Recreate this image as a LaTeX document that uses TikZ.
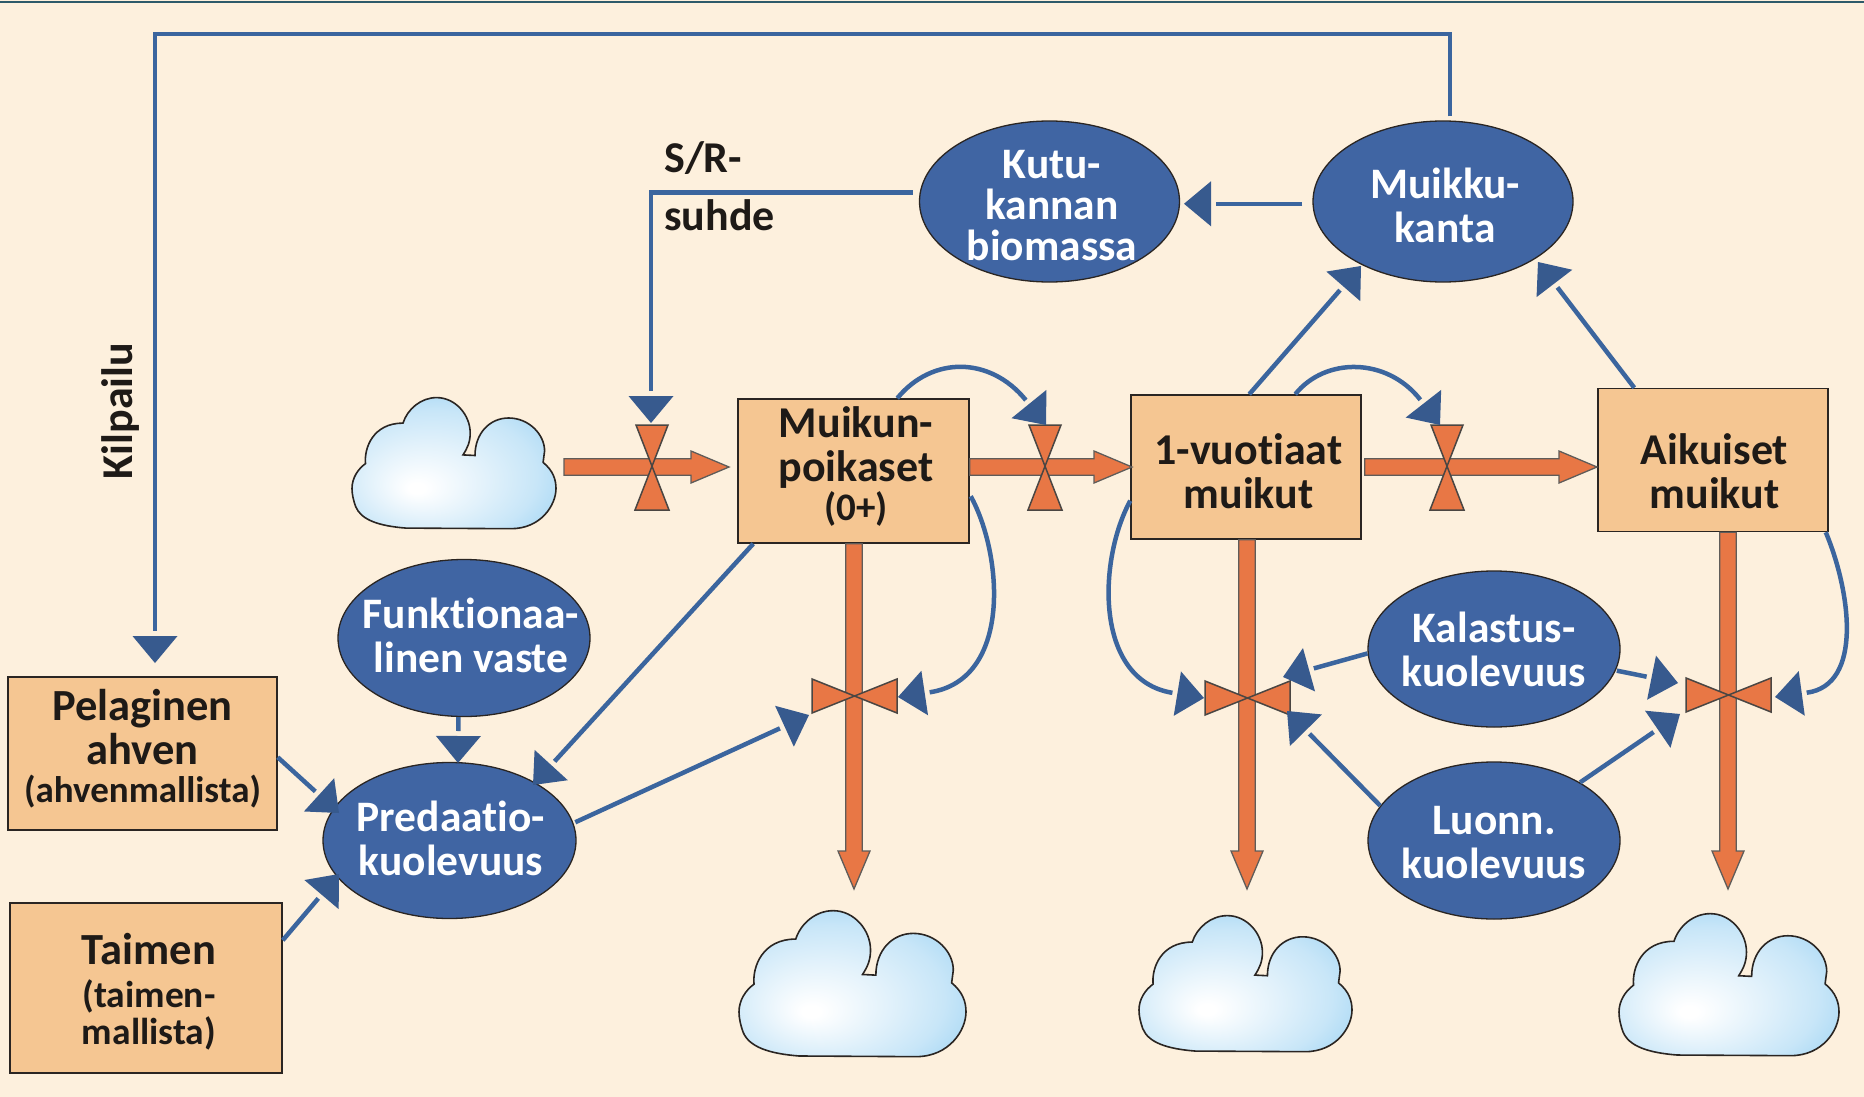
\documentclass[tikz,border=0pt]{standalone}
\usepackage{fontspec}
\setmainfont[Ligatures=NoCommon]{Carlito}
\usetikzlibrary{shapes.geometric,arrows.meta,calc}
\definecolor{bgc}{HTML}{FDF0DD}
\definecolor{orangec}{HTML}{E87745}
\definecolor{boxc}{HTML}{F5C692}
\definecolor{ellc}{HTML}{4065A3}
\definecolor{linec}{HTML}{3B659E}
\definecolor{tipc}{HTML}{375A8E}
\definecolor{darkc}{HTML}{2A2522}
\definecolor{txtc}{HTML}{1E1A17}
\definecolor{topc}{HTML}{2D5A6A}
\definecolor{cloudin}{HTML}{FFFFFF}
\definecolor{cloudaa}{HTML}{E3F2FB}
\definecolor{cloudbb}{HTML}{C8E6F8}
\definecolor{cloudout}{HTML}{A6D7F4}
\pgfdeclareradialshading{cloudshade}{\pgfpoint{-9.5bp}{-10bp}}{color(0bp)=(cloudin); color(2bp)=(cloudin); color(14bp)=(cloudaa); color(25bp)=(cloudbb); color(34bp)=(cloudout); color(50bp)=(cloudout)}
\pgfdeclarearrow{
  name=GapTri,
  cache=false,
  setup code={
    \pgfarrowssetbackend{0pt}
    \pgfarrowssetlineend{-5pt}
    \pgfarrowssettipend{27pt}
    \pgfarrowshullpoint{27pt}{0pt}
    \pgfarrowsupperhullpoint{0pt}{22.5pt}
  },
  drawing code={
    \pgfsetfillcolor{tipc}
    \pgfpathmoveto{\pgfqpoint{27pt}{0pt}}
    \pgfpathlineto{\pgfqpoint{0pt}{22.5pt}}
    \pgfpathlineto{\pgfqpoint{0pt}{-22.5pt}}
    \pgfpathclose
    \pgfusepathqfill
  }
}
% fixes the height and depth of a text block, so the baselines fall where wanted
\newcommand{\tophold}[1]{\rule{0pt}{#1pt}}
\newcommand{\bothold}{\rule[-30pt]{0pt}{30pt}}
\newcommand{\nudge}[1]{\hspace*{#1pt}}
\tikzset{
  statebox/.style={draw=darkc,line width=1.5pt,fill=boxc,text=txtc,font=\bfseries\fontsize{44}{44}\selectfont,align=center,inner xsep=0pt,inner ysep=-50pt},
  oval/.style={ellipse,draw=darkc,line width=1.3pt,fill=ellc,text=white,font=\bfseries\fontsize{43.5}{44}\selectfont,align=center,inner xsep=-70pt,inner ysep=-70pt},
  conn/.style={draw=linec,line width=4.5pt,-GapTri},
  flowbody/.style={draw=darkc!75,line width=1.3pt,fill=orangec,line join=miter},
  valve/.style={draw=darkc!85,line width=1.5pt,fill=orangec},
  cloudy/.style={shading=cloudshade,draw=darkc,line width=1.6pt},
  lbl/.style={text=txtc,font=\bfseries\fontsize{44}{44}\selectfont,inner sep=0pt},
}
\newcommand{\flowright}[2]{\draw[flowbody] let \p1=(#1),\p2=(#2) in (\x1,\y1+8.3pt) -- (\x2-38pt,\y1+8.3pt) -- (\x2-38pt,\y1+16pt) -- (\x2,\y1) -- (\x2-38pt,\y1-16pt) -- (\x2-38pt,\y1-8.3pt) -- (\x1,\y1-8.3pt) -- cycle;}
\newcommand{\flowdown}[2]{\draw[flowbody] let \p1=(#1),\p2=(#2) in (\x1-8.3pt,\y1) -- (\x1-8.3pt,\y2+38pt) -- (\x1-16pt,\y2+38pt) -- (\x1,\y2) -- (\x1+16pt,\y2+38pt) -- (\x1+8.3pt,\y2+38pt) -- (\x1+8.3pt,\y1) -- cycle;}
\newcommand{\valveup}[1]{\draw[valve,shift={(#1)}] (-16,-42) -- (16,-42) -- (-17,43) -- (17,43) -- cycle;}
\newcommand{\valveside}[1]{\draw[valve,shift={(#1)}] (-42,-17) -- (-42,17) -- (43,-17) -- (43,17) -- cycle;}
\newcommand{\puffcloud}[4]{\begin{scope}[shift={(#1,#2)},xscale=#3/680,yscale=#4/440]
\shadedraw[cloudy] (370,193) -- (410,195) .. controls (410,120) and (460,70) .. (522,70) .. controls (590,70) and (642,125) .. (642,180) -- (637,218) .. controls (670,245) and (680,275) .. (680,305) .. controls (680,360) and (630,439) .. (530,439) -- (180,437) .. controls (90,430) and (30,410) .. (12,365) .. controls (5,345) and (0,325) .. (0,305) .. controls (0,270) and (20,240) .. (45,222) .. controls (40,170) and (70,87) .. (170,87) .. controls (185,40) and (230,2) .. (282,2) .. controls (345,2) and (394,60) .. (394,120) .. controls (394,150) and (385,170) .. (370,193) -- cycle;
\end{scope}}
\begin{document}
\begin{tikzpicture}[x=1pt,y=-1pt]
\useasboundingbox (0,0) rectangle (1864,1097);
\fill[bgc] (0,0) rectangle (1864,1097);
\draw[topc,line width=2pt] (0,2) -- (1864,2);

% stocks
\node[statebox,minimum width=231pt,minimum height=144pt] (mp) at (853.5,471) {\nudge{5}\tophold{45}Muikun-\\\nudge{5}poikaset\\[-5pt]\nudge{5}{\fontsize{39}{36}\selectfont (0+)}\bothold};
\node[statebox,minimum width=230pt,minimum height=144pt] (yr) at (1246,467) {\nudge{5}\tophold{68}1-vuotiaat\\\nudge{5}muikut\bothold};
\node[statebox,minimum width=230pt,minimum height=143pt] (ai) at (1713,460) {\nudge{3}\tophold{82}Aikuiset\\\nudge{3}muikut\bothold};
\node[statebox,minimum width=269pt,minimum height=153pt,font=\bfseries\fontsize{44.5}{44}\selectfont] (pel) at (142.5,753.5) {\tophold{45}Pelaginen\\ahven\\[-6pt]{\fontsize{37}{38}\selectfont (ahvenmallista)}\bothold};
\node[statebox,minimum width=272pt,minimum height=170pt,font=\bfseries\fontsize{44.5}{44}\selectfont] (tai) at (146,988) {\nudge{6}\tophold{63}Taimen\\[-1pt]\nudge{6}{\fontsize{37.5}{36}\selectfont (taimen-}\\[-7pt]\nudge{6}{\fontsize{37.5}{36}\selectfont mallista)}\bothold};

% ovals
\node[oval,minimum width=260pt,minimum height=161pt] (mk) at (1443,201.5) {\nudge{4}\tophold{67}Muikku-\\\nudge{4}kanta\bothold};
\node[oval,minimum width=260pt,minimum height=161pt,font=\bfseries\fontsize{43.5}{41}\selectfont] (ku) at (1049.5,201.5) {\nudge{5}\tophold{65}Kutu-\\\nudge{5}kannan\\\nudge{5}biomassa\bothold};
\node[oval,minimum width=252pt,minimum height=157pt] (fu) at (464,638) {\nudge{14}\tophold{55}Funktionaa-\\\nudge{14}linen vaste\bothold};
\node[oval,minimum width=253pt,minimum height=156pt] (pr) at (449.5,840.5) {\nudge{3}\tophold{56}Predaatio-\\\nudge{3}kuolevuus\bothold};
\node[oval,minimum width=252pt,minimum height=156pt] (ka) at (1494,649) {\tophold{61}Kalastus-\\kuolevuus\bothold};
\node[oval,minimum width=252pt,minimum height=157pt] (lu) at (1494,840.5) {\tophold{62}Luonn.\\kuolevuus\bothold};

% clouds
\puffcloud{352}{397}{204}{132}
\puffcloud{739}{910}{227}{147}
\puffcloud{1139}{915}{213}{137}
\puffcloud{1619}{913}{220}{143}

% free ends of the flows and valves
\coordinate (c1) at (564,467); \coordinate (v1) at (652,467);
\coordinate (v2) at (1045,467); \coordinate (v3) at (1447,467);
\coordinate (v4) at (854,696); \coordinate (v5) at (1247,698); \coordinate (v6) at (1728,695);
\coordinate (e4) at (854,889); \coordinate (e5) at (1247,889); \coordinate (e6) at (1728,889);
\coordinate (f1) at (729,467); \coordinate (f2) at (1132,467); \coordinate (f3) at (1597,467);

% flows
\flowright{c1}{f1}
\flowright{$(mp.east |- v2)$}{f2}
\flowright{$(yr.east |- v3)+(3,0)$}{f3}
\flowdown{$(v4 |- mp.south)$}{e4}
\flowdown{$(v5 |- yr.south)$}{e5}
\flowdown{$(v6 |- ai.south)$}{e6}
\valveup{v1} \valveup{v2} \valveup{v3}
\valveside{v4} \valveside{v5} \valveside{v6}

% connector ends
\coordinate (topL) at (155,34);
\coordinate (pelin) at (155,663);
\coordinate (v1in) at (651,423);
\coordinate (kuin) at (1184,203);
\coordinate (a2) at (1046,425); \coordinate (a3) at (1440,425);
\coordinate (a4r) at (898,697); \coordinate (a4l) at (809,715);
\coordinate (a5l) at (1204,698); \coordinate (a5u) at (1283,677); \coordinate (a5d) at (1287,711);
\coordinate (a6r) at (1775,697); \coordinate (a6u) at (1678,683); \coordinate (a6d) at (1680,714);
\coordinate (pr1) at (533,785); \coordinate (pr2) at (339,813); \coordinate (pr3) at (339,874); \coordinate (pr4) at (458,763);
\coordinate (mk1) at (1361,266); \coordinate (mk2) at (1538,262);

% connectors
\draw[conn,shorten <=4pt] (mk.85) |- (topL) -- (pelin);
\draw[conn,shorten <=10pt] (mk.181) -- (kuin |- mk.181);
\draw[conn,shorten <=7pt] (ku.176) -| (v1in);
\draw[conn] ($(mp.north west)+(160,0)$) .. controls (932,356) and (990,356) .. (a2);
\draw[conn] ($(yr.north west)+(165,0)$) .. controls (1325,357) and (1387,357) .. (a3);
\draw[conn] ($(mp.north east)+(1,98)$) .. controls (1003,555) and (1012,680) .. (a4r);
\draw[conn] ($(yr.south west)+(0,-39)$) .. controls (1098,560) and (1094,680) .. (a5l);
\draw[conn] ($(ai.south east)+(-3,0)$) .. controls (1850,590) and (1864,685) .. (a6r);
\draw[conn] ($(yr.north west)+(119,0)$) -- (mk1);
\draw[conn] ($(ai.north west)+(37,0)$) -- (mk2);
\draw[conn] ($(mp.south west)+(16,0)$) -- (pr1);
\draw[conn,shorten <=2pt] (pr.8) -- (a4l);
\draw[conn] ($(pel.north east)+(0,81)$) -- (pr2);
\draw[conn] ($(tai.north east)+(0,38)$) -- (pr3);
\draw[conn] (fu.266) -- (pr4);
\draw[conn] (ka.182) -- (a5u);
\draw[conn,shorten <=1pt] (ka.350) -- (a6u);
\draw[conn] (lu.163) -- (a5d);
\draw[conn] (lu.34) -- (a6d);

% labels
\node[lbl,anchor=base west] (sr1) at (664,172) {S/R-};
\node[lbl,anchor=base west] (sr2) at (664,230) {suhde};
\node[lbl,anchor=base,rotate=90] (kil) at (132,411) {Kilpailu};
\end{tikzpicture}
\end{document}
